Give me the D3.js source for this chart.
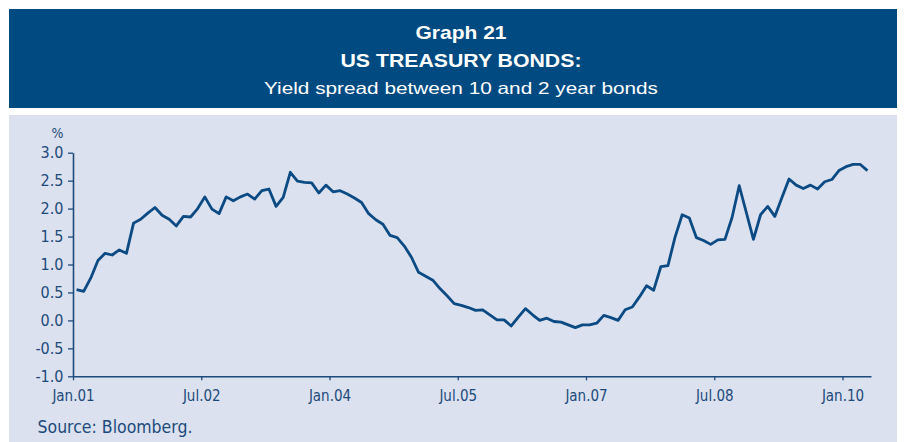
<!DOCTYPE html>
<html>
<head>
<meta charset="utf-8">
<script src="https://cdn.jsdelivr.net/npm/d3@7"></script>
<style>
  html, body { margin: 0; padding: 0; background: #ffffff; }
  svg { display: block; }
</style>
</head>
<body>
<svg id="main-svg"></svg>
<script>
// --- Data (monthly spread, Jan.01 .. Apr.10, %) ---
const spread = [
  0.55, 0.52, 0.76, 1.07, 1.20, 1.17, 1.26, 1.20, 1.74, 1.81, 1.92, 2.02,
  1.88, 1.81, 1.69, 1.86, 1.85, 2.00, 2.21, 1.99, 1.91, 2.21, 2.14, 2.21,
  2.26, 2.17, 2.32, 2.35, 2.04, 2.20, 2.65, 2.49, 2.47, 2.46, 2.28, 2.42,
  2.30, 2.32, 2.26, 2.19, 2.11, 1.91, 1.80, 1.72, 1.52, 1.48, 1.33, 1.13,
  0.86, 0.79, 0.72, 0.57, 0.44, 0.30, 0.27, 0.23, 0.18, 0.19, 0.10, 0.01,
  0.01, -0.10, 0.06, 0.21, 0.10, 0.00, 0.04, -0.02, -0.03, -0.08, -0.13, -0.08,
  -0.08, -0.05, 0.09, 0.05, 0.00, 0.19, 0.24, 0.42, 0.62, 0.54, 0.96, 0.98,
  1.49, 1.89, 1.83, 1.48, 1.43, 1.36, 1.44, 1.45, 1.84, 2.41, 1.93, 1.45,
  1.89, 2.04, 1.86, 2.20, 2.53, 2.42, 2.36, 2.42, 2.35, 2.48, 2.52, 2.68,
  2.75, 2.79, 2.79, 2.68
];
const xTickMonths = [0, 18, 36, 54, 72, 90, 108];
const xTickLabels = ["Jan.01", "Jul.02", "Jan.04", "Jul.05", "Jan.07", "Jul.08", "Jan.10"];
const yTicks = [-1.0, -0.5, 0.0, 0.5, 1.0, 1.5, 2.0, 2.5, 3.0];

// --- Setup ---
const width = 904, height = 442;
const navy = "#004a82";
const ink = "#1d4a7c";
const chartFont = "'Liberation Sans Narrow', 'DejaVu Sans Condensed', 'Liberation Sans', sans-serif";

const svg = d3.select("#main-svg")
  .attr("width", width)
  .attr("height", height);

// header box
svg.append("rect")
  .attr("x", 9).attr("y", 9)
  .attr("width", 888).attr("height", 99)
  .attr("fill", navy);

// light chart panel
svg.append("rect")
  .attr("x", 9).attr("y", 115)
  .attr("width", 888).attr("height", 327)
  .attr("fill", "#dbe1ee");

// titles
const cx = 461;
svg.append("text")
  .attr("x", cx).attr("y", 38.5)
  .attr("text-anchor", "middle")
  .attr("font-family", "'Liberation Sans', sans-serif")
  .attr("font-weight", "bold")
  .attr("font-size", 18.5)
  .attr("textLength", 91).attr("lengthAdjust", "spacingAndGlyphs")
  .attr("fill", "#ffffff")
  .text("Graph 21");

svg.append("text")
  .attr("x", cx).attr("y", 66.7)
  .attr("text-anchor", "middle")
  .attr("font-family", "'Liberation Sans', sans-serif")
  .attr("font-weight", "bold")
  .attr("font-size", 18.5)
  .attr("textLength", 241).attr("lengthAdjust", "spacingAndGlyphs")
  .attr("fill", "#ffffff")
  .text("US TREASURY BONDS:");

svg.append("text")
  .attr("x", cx).attr("y", 93.5)
  .attr("text-anchor", "middle")
  .attr("font-family", "'Liberation Sans', sans-serif")
  .attr("font-size", 16.5)
  .attr("textLength", 394).attr("lengthAdjust", "spacingAndGlyphs")
  .attr("fill", "#ffffff")
  .text("Yield spread between 10 and 2 year bonds");

// --- Scales ---
const x = d3.scaleLinear().domain([0, spread.length]).range([73, 871]);
const y = d3.scaleLinear().domain([-1, 3]).range([376.3, 152.7]);

// --- Axes ---
const fmt = d => d3.format(".1f")(d).replace("\u2212", "-");

const yAxis = svg.append("g")
  .attr("transform", `translate(${x(0)},0)`)
  .call(d3.axisLeft(y).tickValues(yTicks).tickFormat(fmt)
    .tickSize(5).tickSizeOuter(0).tickPadding(4.5));

const xAxis = svg.append("g")
  .attr("transform", `translate(0,${y(-1)})`)
  .call(d3.axisBottom(x).tickValues(xTickMonths)
    .tickFormat((d, i) => xTickLabels[i])
    .tickSize(4).tickSizeOuter(0).tickPadding(10));

[yAxis, xAxis].forEach(g => {
  g.select(".domain").attr("stroke", ink).attr("stroke-width", 1.6);
  g.selectAll(".tick line").attr("stroke", ink).attr("stroke-width", 1.3);
  g.selectAll(".tick text")
    .attr("fill", ink)
    .attr("font-family", chartFont);
});
yAxis.selectAll(".tick text").attr("font-size", 16);
xAxis.selectAll(".tick text").attr("font-size", 15);

// % unit label
svg.append("text")
  .attr("x", 57.5).attr("y", 138)
  .attr("text-anchor", "middle")
  .attr("font-family", chartFont)
  .attr("font-size", 14)
  .attr("fill", ink)
  .text("%");

// --- Line ---
const line = d3.line()
  .x((d, i) => x(i + 0.5))
  .y(d => y(d));

svg.append("path")
  .datum(spread)
  .attr("d", line)
  .attr("fill", "none")
  .attr("stroke", "#0b4a83")
  .attr("stroke-width", 2.8)
  .attr("stroke-linejoin", "round");

// source note
svg.append("text")
  .attr("x", 37.5).attr("y", 432.5)
  .attr("font-family", chartFont)
  .attr("font-size", 17.5)
  .attr("fill", ink)
  .text("Source: Bloomberg.");
</script>
</body>
</html>
